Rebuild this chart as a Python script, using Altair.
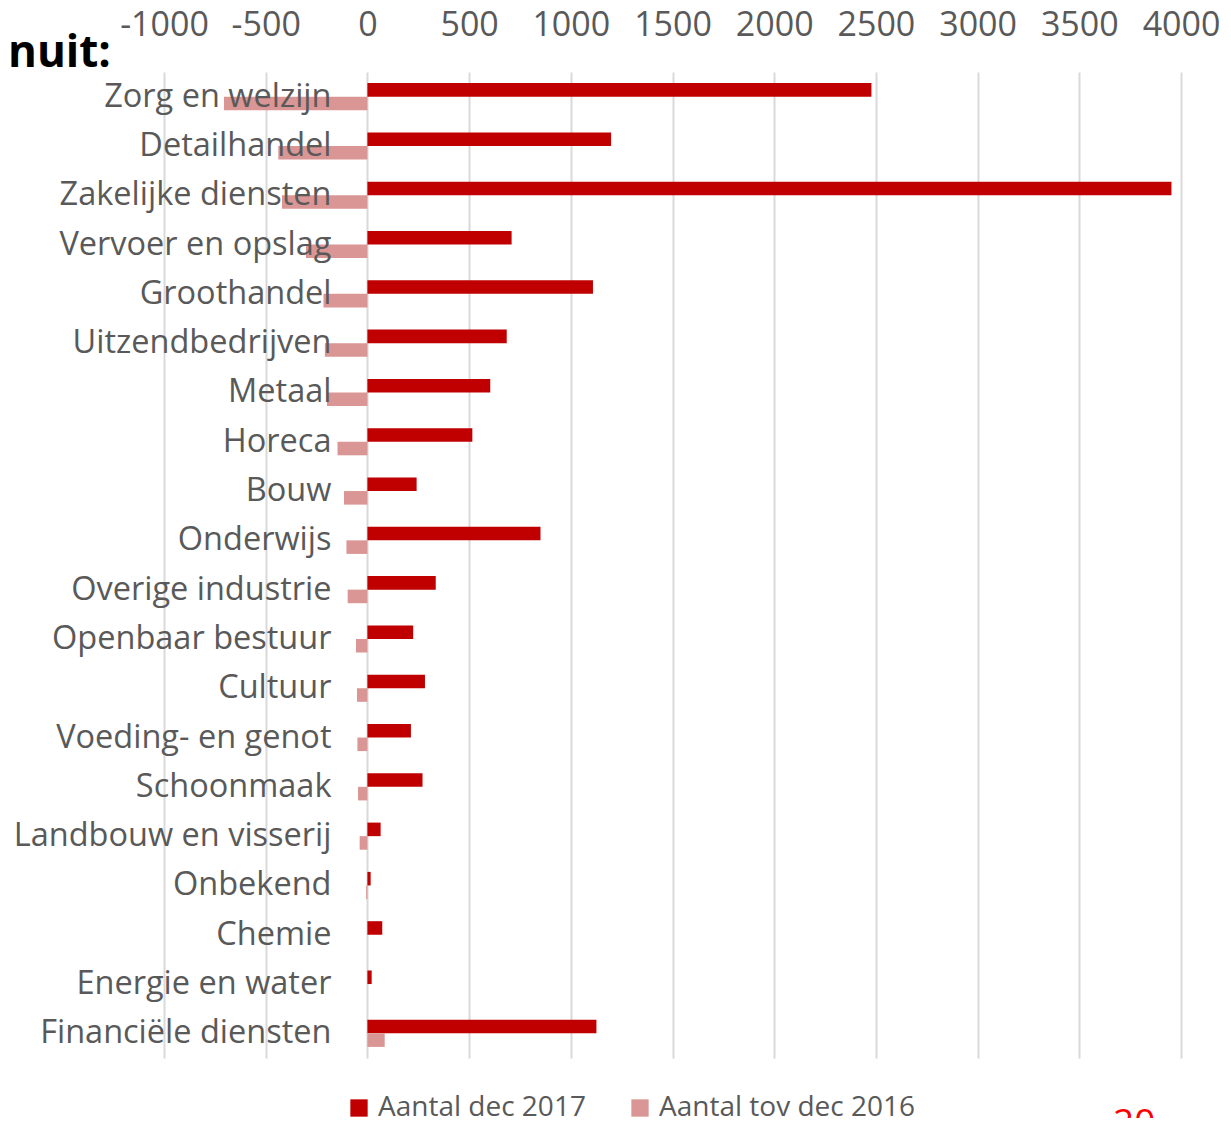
import altair as alt
import pandas as pd

categories = [
    "Zorg en welzijn", "Detailhandel", "Zakelijke diensten", "Vervoer en opslag",
    "Groothandel", "Uitzendbedrijven", "Metaal", "Horeca", "Bouw", "Onderwijs",
    "Overige industrie", "Openbaar bestuur", "Cultuur", "Voeding- en genot",
    "Schoonmaak", "Landbouw en visserij", "Onbekend", "Chemie", "Energie en water",
    "Financiële diensten",
]
aantal_dec_2017 = [2478, 1198, 3953, 709, 1109, 685, 604, 516, 242, 851,
                   336, 225, 283, 214, 271, 65, 16, 73, 21, 1126]
aantal_tov_dec_2016 = [-705, -438, -420, -302, -216, -209, -199, -147, -115, -103,
                       -97, -56, -51, -49, -46, -38, -6, 0, 0, 85]
series = ["Aantal dec 2017", "Aantal tov dec 2016"]
colors = ["#C00000", "#D99694"]
x_ticks = [-1000, -500, 0, 500, 1000, 1500, 2000, 2500, 3000, 3500, 4000]
title_text = ["nuit:"]
page_number = ["20"]

rows = []
for c, a, b in zip(categories, aantal_dec_2017, aantal_tov_dec_2016):
    rows.append({"category": c, "series": series[0], "value": a})
    rows.append({"category": c, "series": series[1], "value": b})
df = pd.DataFrame(rows)

FONT = "Open Sans"
GREY = "#595959"

bars = alt.Chart(df).mark_bar().encode(
    x=alt.X(
        "value:Q",
        scale=alt.Scale(domain=[-1000, 4000], nice=False, zero=False),
        axis=alt.Axis(
            orient="top", values=x_ticks, labelExpr="'' + datum.value",
            labelOverlap=False, labelBound=False, labelFlush=False,
            grid=True, gridColor="#D9D9D9", gridWidth=2, ticks=False, domain=False,
            labelFontSize=34, labelFont=FONT, labelColor=GREY, labelPadding=30,
            title=None, zindex=0,
        ),
    ),
    y=alt.Y(
        "category:N", sort=categories,
        scale=alt.Scale(paddingInner=0.45, paddingOuter=0.225),
        axis=alt.Axis(
            orient="left", offset=-203, labelPadding=36, ticks=False, domain=False,
            grid=False, labelFontSize=32.5, labelFont=FONT, labelColor=GREY,
            labelLimit=500, labelOverlap=False, title=None, zindex=1,
        ),
    ),
    yOffset=alt.YOffset("series:N", sort=series),
    color=alt.Color(
        "series:N", sort=series,
        scale=alt.Scale(domain=series, range=colors),
        legend=alt.Legend(
            orient="none", legendX=181, legendY=1022, direction="horizontal",
            symbolType="square", symbolSize=300, symbolStrokeWidth=0,
            labelFontSize=28, labelFont=FONT, labelColor=GREY, labelLimit=500,
            columnPadding=40, labelOffset=5, title=None,
        ),
    ),
)

title_layer = alt.Chart(pd.DataFrame({"t": title_text})).mark_text(
    font=FONT, fontSize=44, fontWeight="bold", color="black",
    align="left", baseline="alphabetic",
).encode(text="t:N", x=alt.value(-156), y=alt.value(-5))

page_layer = alt.Chart(pd.DataFrame({"t": page_number})).mark_text(
    font=FONT, fontSize=37, color="#FF0000",
    align="left", baseline="alphabetic",
).encode(text="t:N", x=alt.value(949), y=alt.value(1063))

chart = alt.layer(bars, title_layer, page_layer).properties(
    width=1017, height=986,
    autosize=alt.AutoSizeParams(type="none"),
    padding={"left": 156, "top": 64, "right": 42, "bottom": 60},
    background="white",
).configure_view(stroke=None)

chart.save("out.html", embed_options={"renderer": "svg", "actions": False})
